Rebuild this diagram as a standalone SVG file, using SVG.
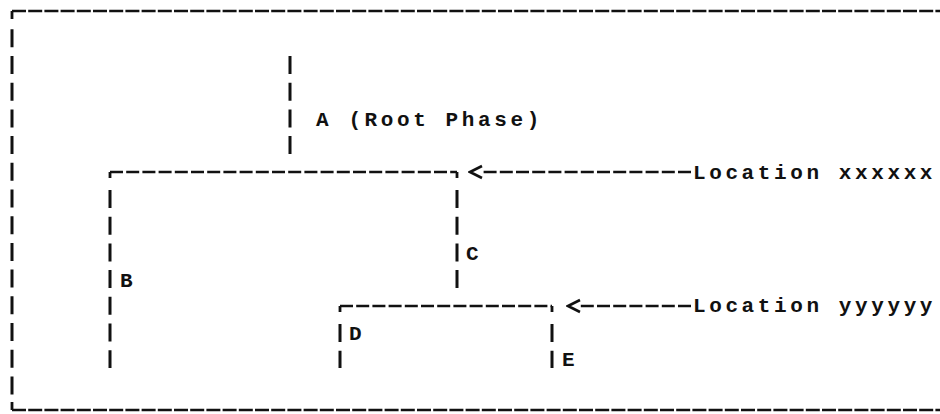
<svg xmlns="http://www.w3.org/2000/svg" width="940" height="414" viewBox="0 0 940 414">
  <defs>
    <style>
      .lbl { font-family: "Liberation Mono", "DejaVu Sans Mono", monospace; font-size: 21px; font-weight: bold; letter-spacing: 3.6px; fill: #111; }
      .h { stroke: #111; stroke-width: 2.5; fill: none; stroke-dasharray: 13 3.2; }
      .hb { stroke: #111; stroke-width: 2.5; fill: none; stroke-dasharray: 14 2.2; }
      .v { stroke: #111; stroke-width: 3; fill: none; stroke-dasharray: 18 8.7; }
      .tick { stroke: #111; stroke-width: 2.8; fill: none; }
    </style>
    <marker id="chev" markerUnits="userSpaceOnUse" markerWidth="16" markerHeight="16" viewBox="-2 -8 16 16" refX="0" refY="0" orient="auto">
      <path d="M0,-6 L12,0 L0,6" fill="none" stroke="#111" stroke-width="2.6" stroke-dasharray="none"/>
    </marker>
  </defs>
  <rect x="0" y="0" width="940" height="414" fill="#fff"/>

  <g id="frame">
    <line class="hb" x1="12" y1="11" x2="940" y2="11"/>
    <line class="hb" x1="12" y1="410" x2="940" y2="410"/>
    <path class="tick" d="M12,11 V19"/>
    <path class="tick" d="M12,402 V410"/>
    <line class="v" x1="12" y1="29.3" x2="12" y2="395"/>
  </g>

  <g id="connectors">
    <!-- A stem -->
    <line class="v" x1="290" y1="56" x2="290" y2="154"/>
    <!-- first level bar -->
    <line class="h" x1="110" y1="172" x2="457" y2="172"/>
    <path class="tick" d="M110,172 V178"/>
    <path class="tick" d="M457,172 V178"/>
    <!-- B stem -->
    <line class="v" x1="110" y1="190" x2="110" y2="368"/>
    <!-- C stem -->
    <line class="v" x1="457" y1="190" x2="457" y2="289"/>
    <!-- second level bar -->
    <line class="h" x1="340" y1="306" x2="552" y2="306"/>
    <path class="tick" d="M340,306 V312"/>
    <path class="tick" d="M552,306 V312"/>
    <!-- D and E stems -->
    <line class="v" x1="340" y1="324" x2="340" y2="368"/>
    <line class="v" x1="552" y1="324" x2="552" y2="368"/>
    <!-- location pointers -->
    <path class="h" d="M691,172 H482" marker-end="url(#chev)"/>
    <path class="h" d="M691,306 H580" marker-end="url(#chev)"/>
  </g>

  <g id="node-A"><text class="lbl" x="316" y="125.5">A (Root Phase)</text></g>
  <g id="node-B"><text class="lbl" x="120" y="286.5">B</text></g>
  <g id="node-C"><text class="lbl" x="466" y="259.5">C</text></g>
  <g id="node-D"><text class="lbl" x="349" y="339.5">D</text></g>
  <g id="node-E"><text class="lbl" x="562" y="366">E</text></g>
  <g id="loc-x"><text class="lbl" x="693" y="178.5">Location xxxxxx</text></g>
  <g id="loc-y"><text class="lbl" x="693" y="312">Location yyyyyy</text></g>
</svg>
